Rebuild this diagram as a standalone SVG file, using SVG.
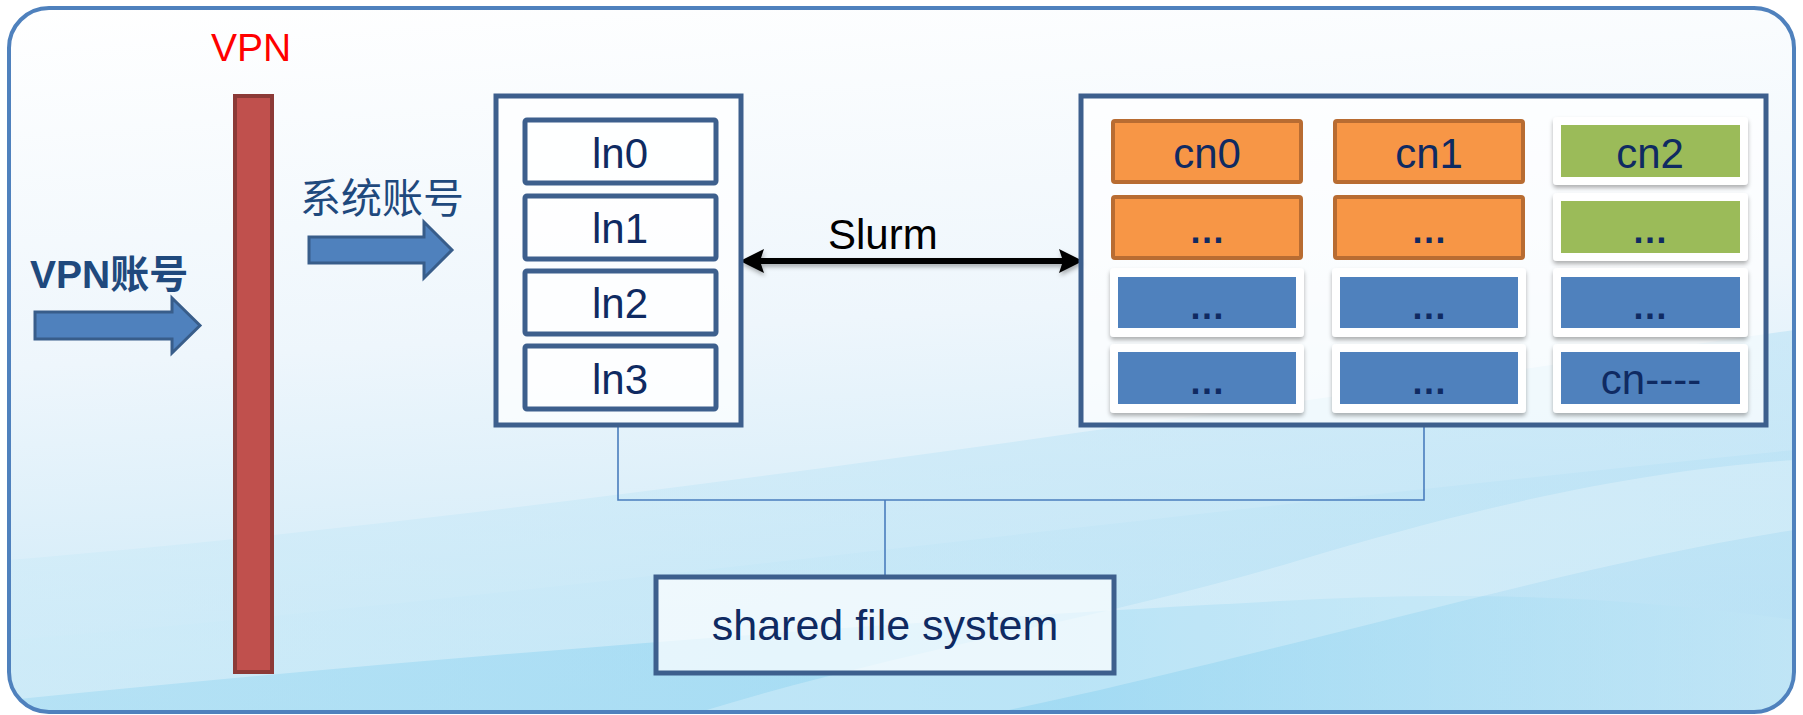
<svg xmlns="http://www.w3.org/2000/svg" width="1803" height="715" viewBox="0 0 1803 715">
<defs>
  <linearGradient id="bg" x1="0" y1="0" x2="0.15" y2="1">
    <stop offset="0" stop-color="#ffffff"/>
    <stop offset="0.5" stop-color="#eef6fc"/>
    <stop offset="1" stop-color="#c9e8f7"/>
  </linearGradient>
  <linearGradient id="wave1" x1="0" y1="0" x2="1" y2="0">
    <stop offset="0" stop-color="#cdebf8"/>
    <stop offset="1" stop-color="#b7e1f5"/>
  </linearGradient>
  <linearGradient id="wave2" x1="0" y1="0" x2="1" y2="0">
    <stop offset="0" stop-color="#a6dcf3"/>
    <stop offset="0.6" stop-color="#8fd4f1"/>
    <stop offset="1" stop-color="#c2e6f6"/>
  </linearGradient>
  <filter id="shadow" x="-10%" y="-10%" width="120%" height="130%">
    <feDropShadow dx="0" dy="3" stdDeviation="2" flood-color="#000" flood-opacity="0.3"/>
  </filter>
  <filter id="ashadow" filterUnits="userSpaceOnUse" x="720" y="230" width="390" height="60">
    <feDropShadow dx="1" dy="3" stdDeviation="2" flood-color="#000" flood-opacity="0.3"/>
  </filter>
  <marker id="ah" viewBox="0 0 24 24" refX="12" refY="12" markerUnits="userSpaceOnUse" markerWidth="24" markerHeight="24" orient="auto-start-reverse">
    <path d="M0,0 L24,12 L0,24 L4,12 Z" fill="#000"/>
  </marker>
  <clipPath id="fc"><rect x="9" y="8" width="1785" height="704" rx="40"/></clipPath>
  <style>
    .t{font-family:"Liberation Sans","Noto Sans CJK SC",sans-serif;fill:#0f2a62;text-anchor:middle;font-size:42px}
    .box{fill:#ffffff;fill-opacity:0.7;stroke:#3d5f8d;stroke-width:5}
    .ln{fill:#ffffff;fill-opacity:0.6;stroke:#3d5f8d;stroke-width:5}
    .or{fill:#f79646;stroke:#b86c32;stroke-width:4}
    .wf{fill:#ffffff;filter:url(#shadow)}
    .gr{fill:#9bbb59}
    .bl{fill:#4f81bd}
    .dots{font-size:36px;font-weight:bold}
    .blk{fill:#4f81bd;stroke:#385d8a;stroke-width:3}
    .conn{fill:none;stroke:#4a7dbd;stroke-width:1.6}
  </style>
</defs>

<rect x="0" y="0" width="1803" height="715" fill="#ffffff"/>
<g id="background">
  <rect x="9" y="8" width="1785" height="704" rx="40" fill="url(#bg)"/>
  <g clip-path="url(#fc)">
    <path d="M9,560 C 500,520 1100,430 1794,330 L1794,712 L9,712 Z" fill="url(#wave1)" opacity="0.55"/>
    <path d="M9,640 C 500,600 1100,520 1794,450 L1794,712 L9,712 Z" fill="url(#wave1)" opacity="0.5"/>
    <path d="M9,700 C 400,660 900,620 1300,600 C 1500,590 1650,600 1794,620 L1794,712 L9,712 Z" fill="url(#wave2)" opacity="0.6"/>
    <path d="M700,712 C 900,650 1100,620 1300,560 C 1500,500 1650,470 1794,460 L1794,530 C 1600,560 1400,620 1100,690 L1000,712 Z" fill="#ffffff" opacity="0.25"/>
  </g>
  <rect x="9" y="8" width="1785" height="704" rx="40" fill="none" stroke="#4f81bd" stroke-width="4"/>
</g>

<g id="vpn-label">
  <text x="211" y="61" style="font-family:'Liberation Sans',sans-serif;font-size:39px;fill:#ff0000">VPN</text>
</g>

<g id="vpn-bar">
  <rect x="235" y="96" width="37" height="576" fill="#c0504d" stroke="#8c3a37" stroke-width="4"/>
</g>

<g id="vpn-account">
  <text x="30" y="288" style="font-family:'Liberation Sans','Noto Sans CJK SC',sans-serif;font-size:39px;font-weight:bold;fill:#1f497d">VPN账号</text>
  <polygon class="blk" points="35,312 172,312 172,298 200,325.5 172,353 172,339 35,339"/>
</g>

<g id="system-account">
  <text x="300" y="213" style="font-family:'Liberation Sans','Noto Sans CJK SC',sans-serif;font-size:41px;fill:#1f497d">系统账号</text>
  <polygon class="blk" points="309,237 424,237 424,222 452,250 424,278 424,263 309,263"/>
</g>

<g id="connectors">
  <g filter="url(#ashadow)">
    <line x1="752" y1="261" x2="1071" y2="261" stroke="#000" stroke-width="6" marker-start="url(#ah)" marker-end="url(#ah)"/>
  </g>
  <path class="conn" d="M618,425 V500 H1424 V425"/>
  <path class="conn" d="M885,500 V577"/>
</g>

<g id="slurm-label">
  <text x="828" y="249" style="font-family:'Liberation Sans',sans-serif;font-size:42px;fill:#000">Slurm</text>
</g>

<g id="login-nodes">
  <rect class="box" x="496" y="96" width="245" height="329"/>
  <g id="ln0"><rect class="ln" x="525" y="120" width="191" height="63" rx="2"/><text class="t" x="620" y="168">ln0</text></g>
  <g id="ln1"><rect class="ln" x="525" y="196" width="191" height="63" rx="2"/><text class="t" x="620" y="243">ln1</text></g>
  <g id="ln2"><rect class="ln" x="525" y="271" width="191" height="63" rx="2"/><text class="t" x="620" y="318">ln2</text></g>
  <g id="ln3"><rect class="ln" x="525" y="346" width="191" height="63" rx="2"/><text class="t" x="620" y="394">ln3</text></g>
</g>

<g id="compute-nodes">
  <rect class="box" x="1081" y="96" width="685" height="329"/>
  <g id="cn0"><rect class="or" x="1113" y="121" width="188" height="61" rx="2"/><text class="t" x="1207" y="168">cn0</text></g>
  <g id="cn1"><rect class="or" x="1335" y="121" width="188" height="61" rx="2"/><text class="t" x="1429" y="168">cn1</text></g>
  <g id="cn2"><rect class="wf" x="1553" y="117" width="195" height="68" rx="4"/><rect class="gr" x="1561" y="125" width="179" height="52"/><text class="t" x="1650" y="168">cn2</text></g>
  <g id="r2c1"><rect class="or" x="1113" y="197" width="188" height="61" rx="2"/><text class="t dots" x="1207" y="243">…</text></g>
  <g id="r2c2"><rect class="or" x="1335" y="197" width="188" height="61" rx="2"/><text class="t dots" x="1429" y="243">…</text></g>
  <g id="r2c3"><rect class="wf" x="1553" y="193" width="195" height="68" rx="4"/><rect class="gr" x="1561" y="201" width="179" height="52"/><text class="t dots" x="1650" y="243">…</text></g>
  <g id="r3c1"><rect class="wf" x="1110" y="268" width="194" height="69" rx="4"/><rect class="bl" x="1118" y="277" width="178" height="51"/><text class="t dots" x="1207" y="319">…</text></g>
  <g id="r3c2"><rect class="wf" x="1332" y="268" width="194" height="69" rx="4"/><rect class="bl" x="1340" y="277" width="178" height="51"/><text class="t dots" x="1429" y="319">…</text></g>
  <g id="r3c3"><rect class="wf" x="1553" y="268" width="195" height="69" rx="4"/><rect class="bl" x="1561" y="277" width="179" height="51"/><text class="t dots" x="1650" y="319">…</text></g>
  <g id="r4c1"><rect class="wf" x="1110" y="344" width="194" height="69" rx="4"/><rect class="bl" x="1118" y="352" width="178" height="52"/><text class="t dots" x="1207" y="394">…</text></g>
  <g id="r4c2"><rect class="wf" x="1332" y="344" width="194" height="69" rx="4"/><rect class="bl" x="1340" y="352" width="178" height="52"/><text class="t dots" x="1429" y="394">…</text></g>
  <g id="cnN"><rect class="wf" x="1553" y="344" width="195" height="69" rx="4"/><rect class="bl" x="1561" y="352" width="179" height="52"/><text class="t" x="1651" y="394">cn----</text></g>
</g>

<g id="shared-fs">
  <rect class="box" x="656" y="577" width="458" height="96"/>
  <text class="t" x="885" y="640" style="font-size:43px">shared file system</text>
</g>
</svg>
